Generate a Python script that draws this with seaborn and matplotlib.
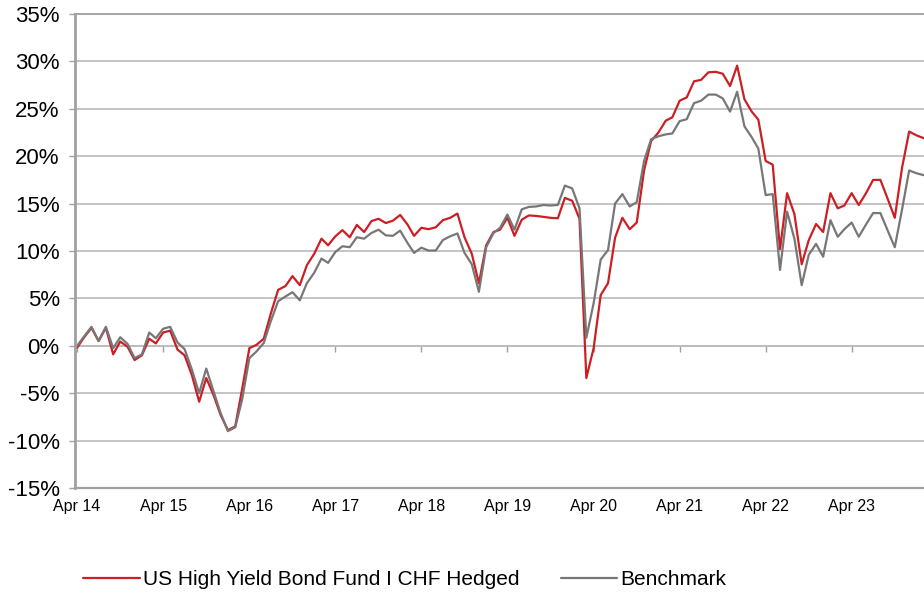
#! /usr/bin/env python
'''
Performance since Apr 14: US High Yield Bond Fund I CHF Hedged vs. Benchmark
'''
# imports
import matplotlib
matplotlib.use('Agg')
from matplotlib import rcParams
from matplotlib.ticker import FuncFormatter
import matplotlib.dates as mdates
import matplotlib.pyplot as plt
import pandas as pd
import seaborn as sns

# DATA (cumulative performance in %, monthly from Apr 14)
dates = pd.date_range('2014-04-01', periods=119, freq='MS')
fund = [-0.2, 0.9, 1.9, 0.5, 1.9, -0.9, 0.45, -0.1, -1.5, -1.0, 0.75, 0.25,      # Apr 14 - Mar 15
        1.4, 1.6, -0.4, -1.0, -3.1, -5.9, -3.4, -5.2, -7.3, -8.9, -8.5, -4.6,    # Apr 15 - Mar 16
        -0.25, 0.1, 0.75, 3.4, 5.9, 6.3, 7.35, 6.4, 8.5, 9.7, 11.3, 10.6,        # Apr 16 - Mar 17
        11.55, 12.2, 11.45, 12.75, 12.0, 13.15, 13.4, 12.95, 13.2, 13.8, 12.8, 11.6,  # Apr 17 - Mar 18
        12.45, 12.3, 12.5, 13.25, 13.5, 13.95, 11.45, 9.7, 6.6, 10.6, 12.0, 12.25,    # Apr 18 - Mar 19
        13.5, 11.6, 13.3, 13.75, 13.7, 13.6, 13.5, 13.45, 15.6, 15.3, 13.4, -3.4,     # Apr 19 - Mar 20
        -0.25, 5.35, 6.6, 11.4, 13.5, 12.3, 13.0, 18.5, 21.6, 22.5, 23.75, 24.1,      # Apr 20 - Mar 21
        25.85, 26.2, 27.9, 28.05, 28.85, 28.9, 28.7, 27.4, 29.55, 26.0, 24.7, 23.85,  # Apr 21 - Mar 22
        19.5, 19.1, 10.2, 16.1, 13.9, 8.6, 11.15, 12.85, 12.0, 16.1, 14.5, 14.8,      # Apr 22 - Mar 23
        16.1, 14.85, 16.1, 17.5, 17.5, 15.5, 13.5, 18.8, 22.6, 22.2, 21.9]            # Apr 23 - Feb 24
benchmark = [0.0, 1.0, 2.0, 0.5, 2.0, -0.25, 0.9, 0.2, -1.3, -0.9, 1.4, 0.8,
             1.8, 2.0, 0.35, -0.35, -2.5, -5.0, -2.4, -4.8, -7.1, -9.0, -8.6, -5.7,
             -1.3, -0.6, 0.3, 2.6, 4.7, 5.2, 5.65, 4.8, 6.6, 7.7, 9.2, 8.75,
             9.9, 10.5, 10.4, 11.45, 11.3, 11.9, 12.25, 11.65, 11.6, 12.15, 10.85, 9.8,
             10.35, 10.05, 10.05, 11.15, 11.55, 11.85, 9.8, 8.6, 5.7, 10.4, 11.9, 12.45,
             13.85, 12.25, 14.4, 14.65, 14.7, 14.85, 14.8, 14.85, 16.9, 16.6, 14.5, 0.85,
             4.5, 9.1, 10.1, 15.0, 16.0, 14.7, 15.15, 19.5, 21.8, 22.1, 22.3, 22.4,
             23.7, 23.9, 25.6, 25.85, 26.5, 26.5, 26.1, 24.7, 26.8, 23.15, 22.0, 20.8,
             15.9, 16.0, 8.0, 14.15, 11.3, 6.4, 9.6, 10.75, 9.4, 13.25, 11.5, 12.3,
             13.0, 11.5, 12.8, 14.0, 14.0, 12.15, 10.4, 14.4, 18.5, 18.2, 18.0]
series_names = ['US High Yield Bond Fund I CHF Hedged', 'Benchmark']
series_colors = ['#cc1f24', '#777777']
tick_years = list(range(2014, 2024))
tick_labels = ['Apr %02d' % (y % 100) for y in tick_years]

# long-form table for seaborn
df = pd.concat([pd.DataFrame({'date': dates, 'value': fund, 'series': series_names[0]}),
                pd.DataFrame({'date': dates, 'value': benchmark, 'series': series_names[1]})])

# settings
sns.set_style('white')
rcParams['font.family'] = ['Liberation Sans', 'DejaVu Sans']
rcParams['text.color'] = 'black'
rcParams['xtick.labelcolor'] = 'black'
rcParams['ytick.labelcolor'] = 'black'
grid_col = '#bfbfbf'
axis_col = '#a0a0a0'

fig = plt.figure(figsize=(9.24, 5.94), dpi=100)
ax = fig.add_axes([75/924, 106/594, 849/924, 474/594])
sns.lineplot(data=df, x='date', y='value', hue='series', hue_order=series_names,
             palette=series_colors, linewidth=1.6, ax=ax, legend=True)

# y axis
ax.set_ylim(-15, 35)
ax.set_yticks(range(-15, 40, 5))
ax.yaxis.set_major_formatter(FuncFormatter(lambda v, p: '%d%%' % v))
ax.yaxis.grid(True, color=grid_col, linewidth=1.3)
ax.tick_params(axis='y', labelsize=16, length=4, width=1, color=axis_col, pad=7,
               left=True, labelcolor='black')

# x axis
xticks = [pd.Timestamp('%d-04-01' % y) for y in tick_years]
ax.set_xlim(pd.Timestamp('2014-03-23'), pd.Timestamp('2024-02-02'))
ax.set_xticks(xticks)
ax.set_xticklabels(tick_labels)
ax.tick_params(axis='x', labelsize=11.5, length=0, pad=8, labelcolor='black')
ax.set_xlabel('')
ax.set_ylabel('')

# category axis crossing at 0% with tick marks
sec = ax.secondary_xaxis(0.3)
sec.set_xticks(mdates.date2num(xticks))
sec.set_xticklabels([])
sec.tick_params(axis='x', length=4, width=1, color=axis_col, direction='out')
sec.spines['bottom'].set_color(axis_col)
sec.spines['bottom'].set_linewidth(1.2)

for side in ['left', 'top', 'bottom']:
    ax.spines[side].set_color(axis_col)
ax.spines['left'].set_linewidth(2)
ax.spines['top'].set_linewidth(1.3)
ax.spines['bottom'].set_linewidth(1.6)
ax.spines['right'].set_visible(False)

# legend below the chart
handles, labels = ax.get_legend_handles_labels()
ax.get_legend().remove()
legend = fig.legend(handles, labels, loc='center', bbox_to_anchor=(0.438, 0.024), ncol=2,
                    frameon=False, fontsize=15, handlelength=2.7, handletextpad=0.15,
                    columnspacing=2.0)
for t in legend.get_texts():
    t.set_color('black')

fig.savefig('out.png', dpi=100)
plt.close()
